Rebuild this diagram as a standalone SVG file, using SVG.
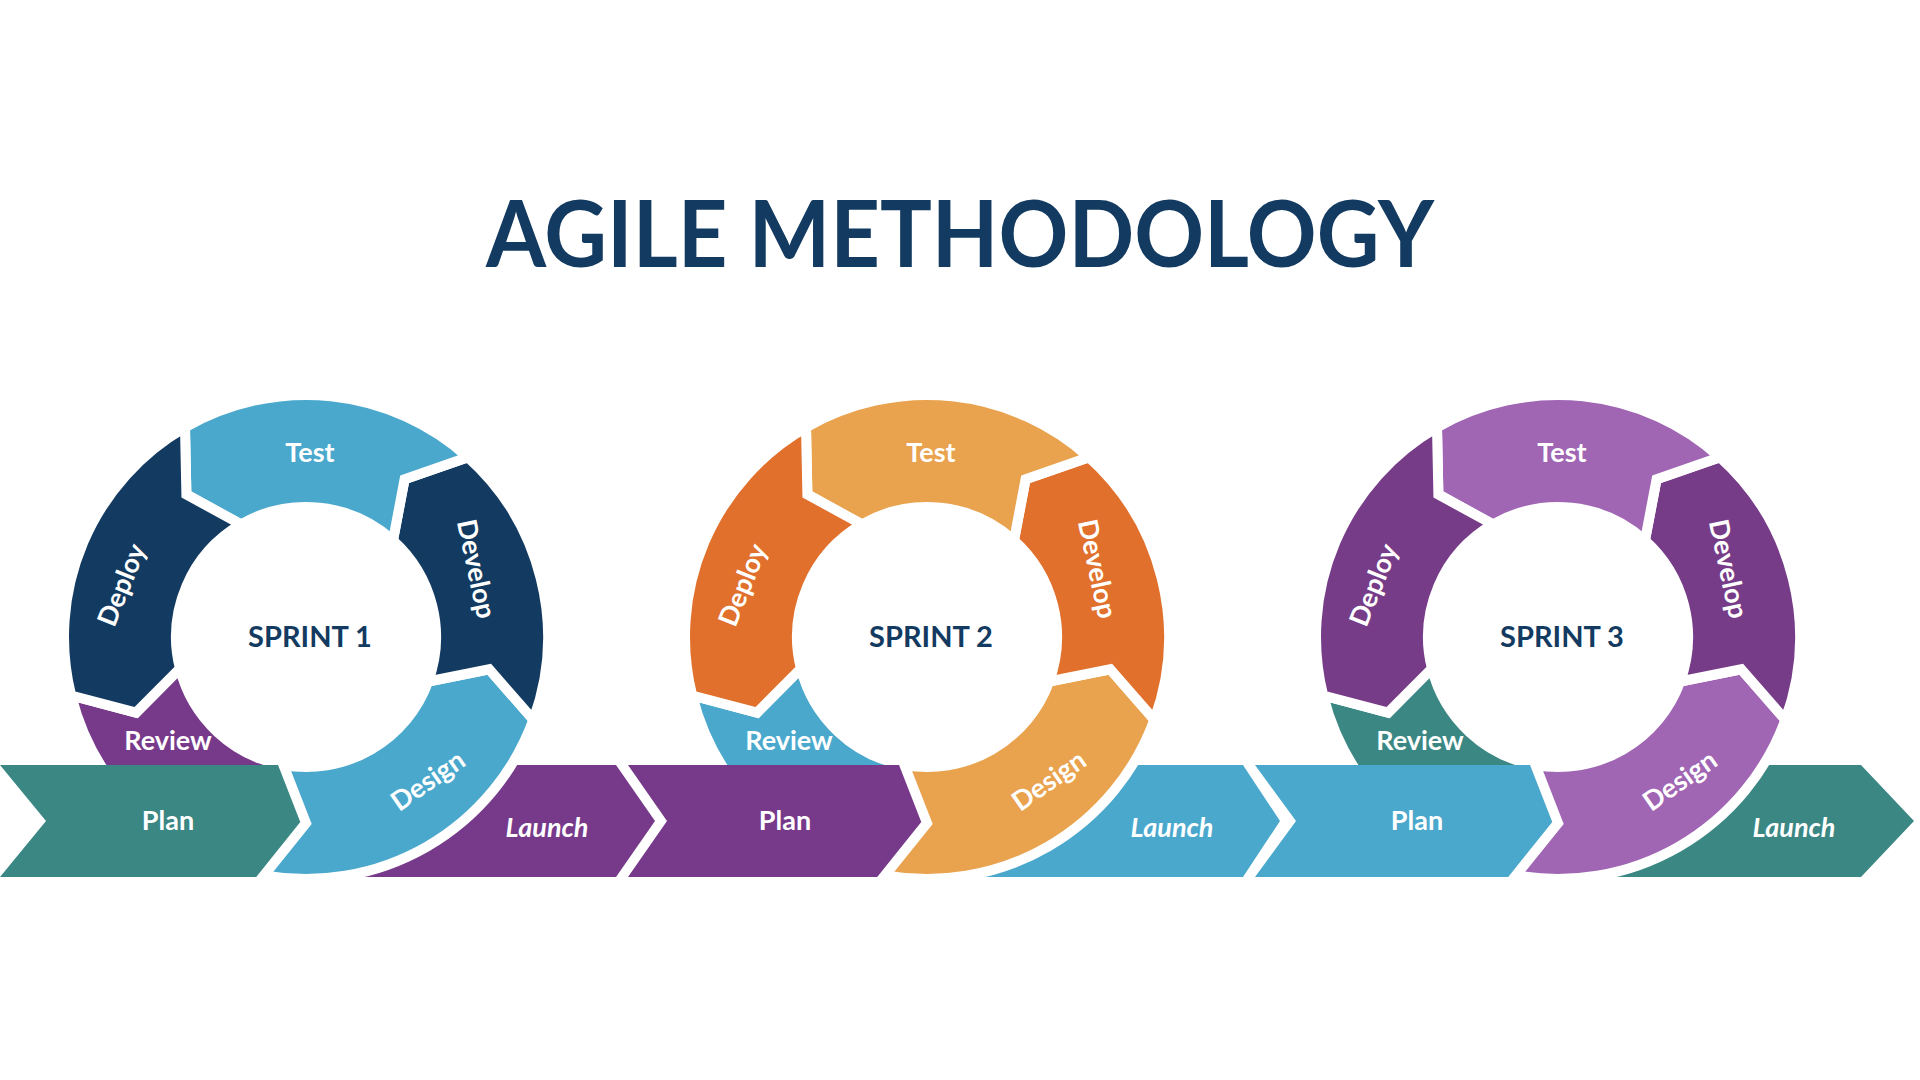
<svg xmlns="http://www.w3.org/2000/svg" width="1920" height="1080" viewBox="0 0 1920 1080">
<style>
.seg{stroke:#fff;stroke-width:10;stroke-linejoin:miter}
.lb{font-family:Lato,"Liberation Sans",sans-serif;font-weight:bold;font-size:27px;fill:#fff;text-anchor:middle}
.it{font-style:italic}
.sp{font-family:Lato,"Liberation Sans",sans-serif;font-weight:bold;font-size:29px;fill:#133a60;text-anchor:middle}
</style>
<defs>
<path id="review" d="M-234.8,58.5 A242 242 0 0 0 -42,238.3 L0,186 L-22.6,128 A130 130 0 0 1 -126.1,31.4 L-169.9,75.6 Z"/>
<path id="design" d="M-42,238.3 A242 242 0 0 0 227.4,82.8 L183.2,32.3 L122.2,44.5 A130 130 0 0 1 -22.6,128 L0,186 Z"/>
<path id="develop" d="M227.4,82.8 A242 242 0 0 0 161.9,-179.8 L98.6,-157.7 L87,-96.6 A130 130 0 0 1 122.2,44.5 L183.2,32.3 Z"/>
<path id="test" d="M161.9,-179.8 A242 242 0 0 0 -121,-209.6 L-119.6,-142.5 L-65,-112.6 A130 130 0 0 1 87,-96.6 L98.6,-157.7 Z"/>
<path id="deploy" d="M-121,-209.6 A242 242 0 0 0 -234.8,58.5 L-169.9,75.6 L-126.1,31.4 A130 130 0 0 1 -65,-112.6 L-119.6,-142.5 Z"/>
</defs>
<rect width="1920" height="1080" fill="#fff"/>
<text id="title" x="960" y="267" font-family="Lato,'Liberation Sans',sans-serif" font-weight="bold" font-size="92" fill="#133a60" text-anchor="middle" textLength="948" lengthAdjust="spacingAndGlyphs">AGILE METHODOLOGY</text>

<!-- review segments (behind banner) -->
<g id="review1" transform="translate(306,637)"><use href="#review" class="seg" fill="#77398a"/><text class="lb" x="-138" y="113">Review</text></g>
<g id="review2" transform="translate(927,637)"><use href="#review" class="seg" fill="#4ba8cd"/><text class="lb" x="-138" y="113">Review</text></g>
<g id="review3" transform="translate(1558,637)"><use href="#review" class="seg" fill="#3a8784"/><text class="lb" x="-138" y="113">Review</text></g>

<!-- banner -->
<g id="launch1"><polygon fill="#77398a" points="300,765 616,765 655,821 616,877 300,877 340,821"/><text class="lb it" x="547" y="837">Launch</text></g>
<g id="launch2"><polygon fill="#4ba8cd" points="920,765 1243,765 1280,821 1243,877 920,877 958,821"/><text class="lb it" x="1172" y="837">Launch</text></g>
<g id="launch3"><polygon fill="#3a8784" points="1545,765 1861,765 1914,821 1861,877 1545,877 1583,821"/><text class="lb it" x="1794" y="837">Launch</text></g>
<g id="plan1"><polygon fill="#3a8784" points="0,765 284,765 324,821 284,877 0,877 46,821"/><text class="lb" x="168" y="830">Plan</text></g>
<g id="plan2"><polygon fill="#77398a" points="628,765 906,765 943,821 906,877 628,877 667,821"/><text class="lb" x="785" y="830">Plan</text></g>
<g id="plan3"><polygon fill="#4ba8cd" points="1255,765 1531,765 1570,821 1531,877 1255,877 1296,821"/><text class="lb" x="1417" y="830">Plan</text></g>

<!-- sprint 1 -->
<g id="sprint1" transform="translate(306,637)">
<use href="#design" class="seg" fill="#4ba8cd"/>
<use href="#develop" class="seg" fill="#133a60"/>
<use href="#test" class="seg" fill="#4ba8cd"/>
<use href="#deploy" class="seg" fill="#133a60"/>
<text class="lb" x="4" y="-175">Test</text>
<text class="lb" transform="translate(-184,-52) rotate(-68)" y="9">Deploy</text>
<text class="lb" transform="translate(170,-68) rotate(78)" y="9">Develop</text>
<text class="lb" transform="translate(122,144) rotate(-35)" y="9">Design</text>
<text class="sp" x="4" y="10">SPRINT 1</text>
</g>
<!-- sprint 2 -->
<g id="sprint2" transform="translate(927,637)">
<use href="#design" class="seg" fill="#e9a24d"/>
<use href="#develop" class="seg" fill="#e0702c"/>
<use href="#test" class="seg" fill="#e9a24d"/>
<use href="#deploy" class="seg" fill="#e0702c"/>
<text class="lb" x="4" y="-175">Test</text>
<text class="lb" transform="translate(-184,-52) rotate(-68)" y="9">Deploy</text>
<text class="lb" transform="translate(170,-68) rotate(78)" y="9">Develop</text>
<text class="lb" transform="translate(122,144) rotate(-35)" y="9">Design</text>
<text class="sp" x="4" y="10">SPRINT 2</text>
</g>
<!-- sprint 3 -->
<g id="sprint3" transform="translate(1558,637)">
<use href="#design" class="seg" fill="#a066b4"/>
<use href="#develop" class="seg" fill="#773c88"/>
<use href="#test" class="seg" fill="#a066b4"/>
<use href="#deploy" class="seg" fill="#773c88"/>
<text class="lb" x="4" y="-175">Test</text>
<text class="lb" transform="translate(-184,-52) rotate(-68)" y="9">Deploy</text>
<text class="lb" transform="translate(170,-68) rotate(78)" y="9">Develop</text>
<text class="lb" transform="translate(122,144) rotate(-35)" y="9">Design</text>
<text class="sp" x="4" y="10">SPRINT 3</text>
</g>
</svg>
